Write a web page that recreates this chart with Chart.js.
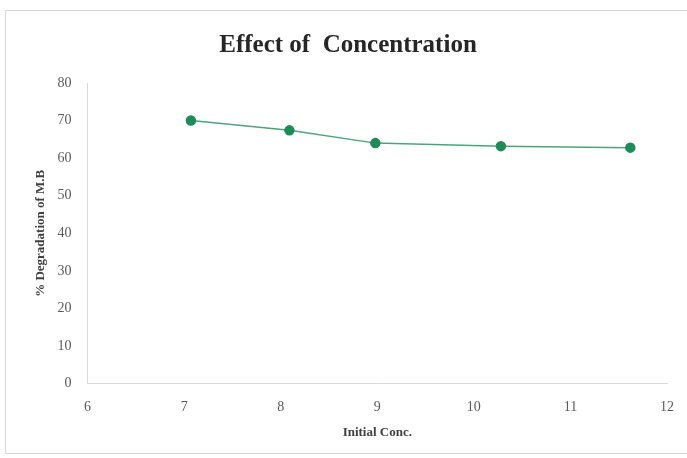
<!DOCTYPE html>
<html>
<head>
<meta charset="utf-8">
<script src="https://cdn.jsdelivr.net/npm/chart.js@4/dist/chart.umd.min.js"></script>
<style>
  body { margin: 0; background: #fff; }
  #frame { position: absolute; left: 5px; top: 10px; width: 690px; height: 444px; border: 1px solid #d9d9d9; box-sizing: border-box; }
  #wrap { position: absolute; left: 0; top: 0; width: 687px; height: 458px; }
</style>
</head>
<body>
<div id="frame"></div>
<div id="wrap"><canvas id="conc-chart"></canvas></div>
<script>
// Data
const initialConc = [7.07, 8.09, 8.98, 10.28, 11.62];
const degradation = [70.0, 67.4, 64.0, 63.2, 62.8];

const serif = "'Liberation Serif', 'DejaVu Serif', serif";

const points = initialConc.map((x, i) => ({ x: x, y: degradation[i] }));

const ctx = document.getElementById('conc-chart').getContext('2d');
new Chart(ctx, {
    type: 'scatter',
    data: {
        datasets: [{
            label: '% Degradation',
            data: points,
            showLine: true,
            borderColor: '#4fa37b',
            borderWidth: 1.5,
            pointBackgroundColor: '#1f8b57',
            pointBorderColor: '#1f8b57',
            pointRadius: 4.5,
            tension: 0
        }]
    },
    options: {
        responsive: true,
        maintainAspectRatio: false,
        animation: false,
        layout: { padding: { left: 29, right: 20, top: 31, bottom: 14 } },
        plugins: {
            legend: { display: false },
            tooltip: { enabled: false },
            title: {
                display: true,
                text: 'Effect of  Concentration',
                color: '#262626',
                font: { family: serif, size: 25, weight: 'bold' },
                padding: { top: 0, bottom: 22 }
            }
        },
        scales: {
            x: {
                type: 'linear',
                min: 6,
                max: 12,
                ticks: { stepSize: 1, color: '#595959', font: { family: serif, size: 14 }, padding: 7 },
                grid: { display: false },
                border: { color: '#d9d9d9' },
                title: {
                    display: true,
                    text: 'Initial Conc.',
                    color: '#404040',
                    font: { family: serif, size: 13, weight: 'bold' },
                    padding: { top: 2 }
                }
            },
            y: {
                min: 0,
                max: 80,
                ticks: { stepSize: 10, color: '#595959', font: { family: serif, size: 14 }, padding: 8 },
                grid: { display: false },
                border: { color: '#d9d9d9' },
                title: {
                    display: true,
                    text: '% Degradation of M.B',
                    color: '#404040',
                    font: { family: serif, size: 13, weight: 'bold' },
                    padding: { bottom: 1 }
                }
            }
        }
    }
});
</script>
</body>
</html>
